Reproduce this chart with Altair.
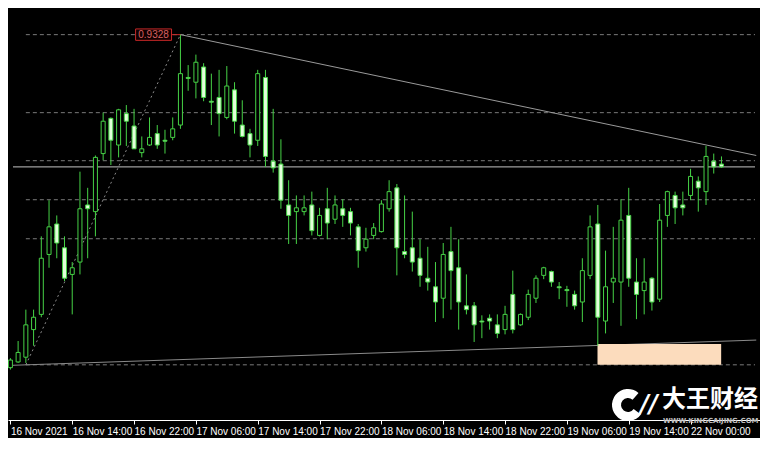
import altair as alt
import pandas as pd

# ---- hourly candles (bar index 0 = 16 Nov 07:00) ----
bars = list(range(-1, 92))
open_p = [0.92580, 0.92592, 0.92602, 0.92660, 0.92692, 0.92818, 0.92882, 0.92832, 0.92776, 0.92802,
          0.92922, 0.92908, 0.93030, 0.93104, 0.93048, 0.93114, 0.93088, 0.93032, 0.93048, 0.93072,
          0.93058, 0.93064, 0.93090, 0.93190, 0.93180, 0.93212, 0.93140, 0.93148, 0.93106, 0.93164,
          0.93090, 0.93072, 0.93058, 0.93190, 0.93014, 0.93008, 0.92922, 0.92908, 0.92908, 0.92922,
          0.92858, 0.92914, 0.92892, 0.92914, 0.92908, 0.92876, 0.92832, 0.92858, 0.92866, 0.92914,
          0.92958, 0.92824, 0.92832, 0.92810, 0.92768, 0.92750, 0.92726, 0.92824, 0.92790, 0.92710,
          0.92710, 0.92678, 0.92684, 0.92670, 0.92660, 0.92734, 0.92670, 0.92686, 0.92726, 0.92774,
          0.92782, 0.92750, 0.92744, 0.92734, 0.92718, 0.92774, 0.92882, 0.92678, 0.92760, 0.92760,
          0.92900, 0.92760, 0.92742, 0.92768, 0.92724, 0.92900, 0.92942, 0.92922, 0.92942, 0.92972,
          0.92950, 0.93014, 0.93008]
high_p = [0.92600, 0.92636, 0.92702, 0.92702, 0.92856, 0.92932, 0.92900, 0.92856, 0.92802, 0.92992,
          0.92958, 0.93026, 0.93116, 0.93106, 0.93124, 0.93132, 0.93124, 0.93066, 0.93106, 0.93090,
          0.93080, 0.93106, 0.93280, 0.93216, 0.93238, 0.93220, 0.93198, 0.93206, 0.93214, 0.93180,
          0.93142, 0.93082, 0.93206, 0.93206, 0.93124, 0.93060, 0.92974, 0.92942, 0.92942, 0.92950,
          0.92916, 0.92958, 0.92942, 0.92934, 0.92916, 0.92882, 0.92874, 0.92884, 0.92932, 0.92974,
          0.92966, 0.92942, 0.92908, 0.92850, 0.92834, 0.92802, 0.92842, 0.92876, 0.92850, 0.92776,
          0.92718, 0.92690, 0.92692, 0.92692, 0.92710, 0.92784, 0.92694, 0.92744, 0.92774, 0.92792,
          0.92784, 0.92760, 0.92752, 0.92742, 0.92810, 0.92900, 0.92922, 0.92826, 0.92876, 0.92934,
          0.92958, 0.92810, 0.92810, 0.92770, 0.92924, 0.92952, 0.92950, 0.92950, 0.92998, 0.92982,
          0.93046, 0.93030, 0.93024]
low_p = [0.92576, 0.92590, 0.92590, 0.92626, 0.92686, 0.92790, 0.92810, 0.92762, 0.92692, 0.92776,
         0.92810, 0.92856, 0.93016, 0.93006, 0.93022, 0.93046, 0.93040, 0.93022, 0.93046, 0.93040,
         0.93030, 0.93058, 0.93082, 0.93162, 0.93146, 0.93140, 0.93090, 0.93066, 0.93102, 0.93072,
         0.93064, 0.93022, 0.93046, 0.93002, 0.92990, 0.92914, 0.92840, 0.92840, 0.92900, 0.92858,
         0.92856, 0.92850, 0.92882, 0.92876, 0.92858, 0.92790, 0.92824, 0.92850, 0.92864, 0.92908,
         0.92774, 0.92810, 0.92782, 0.92750, 0.92742, 0.92676, 0.92684, 0.92702, 0.92660, 0.92692,
         0.92634, 0.92642, 0.92660, 0.92642, 0.92650, 0.92652, 0.92668, 0.92680, 0.92716, 0.92766,
         0.92750, 0.92724, 0.92708, 0.92702, 0.92676, 0.92766, 0.92626, 0.92652, 0.92716, 0.92668,
         0.92750, 0.92682, 0.92692, 0.92700, 0.92718, 0.92876, 0.92882, 0.92900, 0.92932, 0.92908,
         0.92922, 0.92988, 0.93000]
close_p = [0.92596, 0.92612, 0.92670, 0.92686, 0.92810, 0.92876, 0.92842, 0.92768, 0.92790, 0.92914,
           0.92914, 0.93022, 0.93098, 0.93058, 0.93122, 0.93098, 0.93040, 0.93040, 0.93064, 0.93048,
           0.93056, 0.93082, 0.93198, 0.93188, 0.93222, 0.93148, 0.93138, 0.93114, 0.93172, 0.93098,
           0.93066, 0.93048, 0.93198, 0.93024, 0.93000, 0.92932, 0.92900, 0.92916, 0.92916, 0.92868,
           0.92900, 0.92884, 0.92922, 0.92900, 0.92884, 0.92826, 0.92850, 0.92874, 0.92924, 0.92950,
           0.92832, 0.92818, 0.92802, 0.92774, 0.92760, 0.92718, 0.92818, 0.92784, 0.92718, 0.92702,
           0.92670, 0.92676, 0.92678, 0.92652, 0.92692, 0.92660, 0.92692, 0.92734, 0.92768, 0.92790,
           0.92760, 0.92748, 0.92742, 0.92710, 0.92784, 0.92876, 0.92686, 0.92750, 0.92768, 0.92890,
           0.92768, 0.92734, 0.92760, 0.92718, 0.92890, 0.92950, 0.92916, 0.92916, 0.92982, 0.92958,
           0.93024, 0.93002, 0.93002]

tick_bars = [-1, 7, 15, 23, 31, 39, 47, 55, 63, 71, 79, 87]
tick_labels = ["16 Nov 2021", "16 Nov 14:00", "16 Nov 22:00", "17 Nov 06:00", "17 Nov 14:00",
               "17 Nov 22:00", "18 Nov 06:00", "18 Nov 14:00", "18 Nov 22:00", "19 Nov 06:00",
               "19 Nov 14:00", "22 Nov 00:00"]

# ---- drawn objects ----
fib_levels = [0.93280, 0.93116, 0.93015, 0.92933, 0.92851, 0.92586]
fib_start_bar = 1
bid_price = 0.93002
trend_hi_bar = [21, 95.5]
trend_hi_price = [0.93280, 0.93026]
trend_lo_bar = [-0.7, 95.5]
trend_lo_price = [0.92585, 0.92638]
fib_diag_bar = [1, 21]
fib_diag_price = [0.92586, 0.93280]
zone_bar = [74.96, 90.96]
zone_price = [0.92630, 0.92586]
label_bar = [15.2, 19.85]
label_price = [0.93292, 0.93268]
label_text = "0.9328"

W, H = 752, 412
XDOM = [-0.6625, 95.3375]
YDOM = [0.92470, 0.93336]
GREEN = "#46d246"
BEAR_FILL = "#e2ffda"

xs = alt.Scale(domain=XDOM, nice=False, zero=False)
ys = alt.Scale(domain=YDOM, nice=False, zero=False)

candles = pd.DataFrame({"bar": bars, "open": open_p, "high": high_p,
                        "low": low_p, "close": close_p})

label_expr = "[" + ",".join(f"'{t}'" for t in tick_labels) + "][(datum.value + 1) / 8]"
x_axis = alt.Axis(values=tick_bars, labelExpr=label_expr, title=None, grid=False,
                  domainColor="#ffffff", domainWidth=1, tickColor="#ffffff", tickSize=4,
                  tickWidth=1, labelColor="#ffffff", labelFont="Liberation Sans",
                  labelFontSize=10, labelAlign="left", labelBaseline="top", labelPadding=2,
                  labelBound=False, labelOverlap=False, labelFlush=False)

def X(field):
    return alt.X(field, type="quantitative", scale=xs, axis=x_axis, title=None)

def Y(field):
    return alt.Y(field, type="quantitative", scale=ys, axis=None)

fib_df = pd.DataFrame({"price": fib_levels, "start": fib_start_bar, "end": XDOM[1]})
fib_lines = alt.Chart(fib_df).mark_rule(color="#7a7a7a", strokeWidth=1, strokeDash=[4, 3], clip=True).encode(
    x=X("start"), x2="end", y=Y("price"))

bid_df = pd.DataFrame({"price": [bid_price], "start": [XDOM[0]], "end": [XDOM[1]]})
bid_line = alt.Chart(bid_df).mark_rule(color="#c4c4c4", strokeWidth=1).encode(
    x=X("start"), x2="end", y=Y("price"))

hi_df = pd.DataFrame({"bar": trend_hi_bar, "price": trend_hi_price})
hi_line = alt.Chart(hi_df).mark_line(color="#9a9a9a", strokeWidth=1, clip=True).encode(
    x=X("bar"), y=Y("price"))

lo_df = pd.DataFrame({"bar": trend_lo_bar, "price": trend_lo_price})
lo_line = alt.Chart(lo_df).mark_line(color="#8a8a8a", strokeWidth=1, clip=True).encode(
    x=X("bar"), y=Y("price"))

diag_df = pd.DataFrame({"bar": fib_diag_bar, "price": fib_diag_price})
diag_line = alt.Chart(diag_df).mark_line(color="#8a8a8a", strokeWidth=1, strokeDash=[2, 3], clip=True).encode(
    x=X("bar"), y=Y("price"))

zone_df = pd.DataFrame({"b0": [zone_bar[0]], "b1": [zone_bar[1]],
                        "p0": [zone_price[0]], "p1": [zone_price[1]]})
zone = alt.Chart(zone_df).mark_rect(color="#fcdcbd").encode(
    x=X("b0"), x2="b1", y=Y("p0"), y2="p1")

wicks = alt.Chart(candles).mark_rule(color=GREEN, strokeWidth=1, clip=True).encode(
    x=X("bar"), y=Y("low"), y2="high")

bodies = alt.Chart(candles).mark_bar(size=4, stroke=GREEN, strokeWidth=1, clip=True).encode(
    x=X("bar"), y=Y("open"), y2="close",
    fill=alt.condition("datum.close < datum.open", alt.value(BEAR_FILL), alt.value("#000000")))

lab_df = pd.DataFrame({"b0": [label_bar[0]], "b1": [label_bar[1]],
                       "p0": [label_price[0]], "p1": [label_price[1]],
                       "bm": [(label_bar[0] + label_bar[1]) / 2],
                       "pm": [fib_levels[0]], "hb": [trend_hi_bar[0]],
                       "t": [label_text]})
lab_box = alt.Chart(lab_df).mark_rect(fill="#120000", stroke="#c82828", strokeWidth=1).encode(
    x=X("b0"), x2="b1", y=Y("p0"), y2="p1")
lab_link = alt.Chart(lab_df).mark_rule(color="#c82828", strokeWidth=1).encode(
    x=X("b1"), x2="hb", y=Y("pm"))
lab_text = alt.Chart(lab_df).mark_text(color="#d86060", font="Liberation Sans", fontSize=10,
                                        align="center", baseline="middle").encode(
    x=X("bm"), y=Y("pm"), text="t:N")

# ---- watermark ----
wm = pd.DataFrame({"name": ["大王财经"], "url": ["WWW.KINGCAIJING.COM"], "slash": ["//"]})
logo = alt.Chart(wm).mark_arc(color="#ffffff", radius=16, radius2=7, theta=2.2, theta2=7.0).encode(
    x=alt.value(620), y=alt.value(397))
slash = alt.Chart(wm).mark_text(color="#ffffff", font="DejaVu Sans", fontSize=24, fontWeight="bold",
                                 fontStyle="italic", align="center", baseline="middle").encode(
    x=alt.value(641), y=alt.value(397), text="slash:N")
wm_name = alt.Chart(wm).mark_text(color="#ffffff", font="Noto Sans CJK SC", fontSize=24, fontWeight="bold",
                                   align="left", baseline="middle").encode(
    x=alt.value(654), y=alt.value(392), text="name:N")
wm_url = alt.Chart(wm).mark_text(color="#bdbdbd", font="DejaVu Sans", fontSize=7, fontWeight="bold",
                                  align="left", baseline="middle").encode(
    x=alt.value(655), y=alt.value(413), text="url:N")

chart = alt.layer(
    fib_lines, bid_line, hi_line, diag_line, lo_line, zone,
    wicks, bodies, lab_box, lab_link, lab_text,
    logo, slash, wm_name, wm_url
).properties(
    width=W, height=H,
    padding={"left": 0, "top": 0, "right": 0, "bottom": 18},
    autosize=alt.AutoSizeParams(type="none"),
    background="#000000",
).configure_view(stroke=None)

chart.save("out.html", embed_options={"renderer": "svg", "actions": False})
